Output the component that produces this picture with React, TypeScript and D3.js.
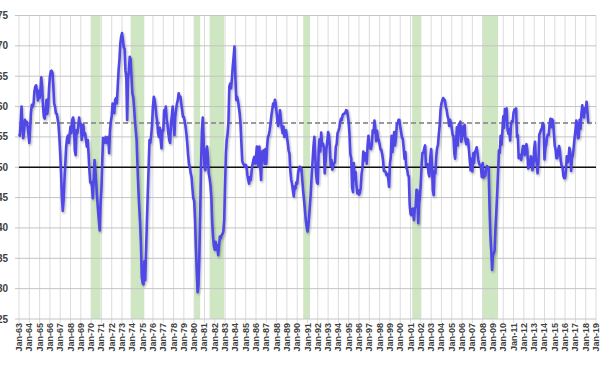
import React from "react";
import * as d3 from "d3";

// ISM manufacturing index, monthly, one row per year starting Jan 1963
const pmi: number[] = [
  55.5, 55.2, 57.5, 60.0, 57.0, 54.8, 56.0, 57.8, 57.0, 57.5, 56.8, 55.5, // 1963
  54.0, 56.5, 59.0, 60.3, 60.0, 60.5, 62.5, 63.3, 63.5, 62.5, 61.0, 62.6, // 1964
  61.4, 62.7, 64.8, 63.3, 60.0, 58.3, 58.0, 59.4, 61.1, 58.8, 60.0, 63.0, // 1965
  65.0, 65.8, 65.9, 65.6, 63.5, 60.5, 60.0, 58.9, 58.8, 58.0, 57.0, 55.0, // 1966
  52.3, 49.0, 45.1, 42.8, 44.6, 47.9, 50.6, 53.4, 54.8, 55.2, 54.0, 55.5, // 1967
  56.7, 55.6, 57.8, 58.2, 57.3, 52.8, 52.0, 56.1, 55.6, 56.7, 58.2, 57.0, // 1968
  57.2, 54.5, 56.1, 57.0, 55.3, 55.6, 54.5, 53.4, 54.5, 52.3, 49.5, 47.5, // 1969
  47.6, 46.8, 44.9, 47.9, 51.2, 49.5, 47.3, 45.0, 43.0, 41.3, 39.6, 44.0, // 1970
  46.5, 51.2, 54.8, 54.0, 54.5, 55.0, 54.0, 54.8, 55.0, 52.3, 56.1, 57.5, // 1971
  58.5, 60.5, 60.0, 58.9, 61.1, 61.4, 60.5, 63.3, 66.0, 67.7, 70.4, 71.5, // 1972
  72.1, 71.0, 69.8, 69.5, 66.0, 64.8, 57.8, 64.5, 66.0, 68.2, 67.8, 65.0, // 1973
  62.2, 61.6, 60.0, 57.8, 56.1, 54.5, 50.5, 46.5, 43.5, 41.0, 37.5, 32.0, // 1974
  30.9, 30.7, 34.5, 31.4, 36.0, 41.0, 45.5, 50.0, 54.5, 54.0, 55.3, 57.0, // 1975
  60.0, 61.6, 61.1, 60.0, 58.5, 57.5, 55.6, 55.0, 56.5, 54.5, 53.1, 56.1, // 1976
  56.0, 59.4, 58.9, 60.0, 58.0, 57.0, 55.6, 54.5, 54.0, 57.2, 58.5, 60.0, // 1977
  57.0, 55.3, 58.3, 59.5, 60.5, 61.1, 62.2, 61.5, 61.6, 60.5, 59.4, 58.3, // 1978
  58.3, 57.5, 56.7, 55.5, 54.0, 52.0, 50.5, 50.1, 49.0, 48.4, 46.5, 44.9, // 1979
  44.5, 41.5, 37.0, 33.0, 29.4, 30.5, 35.0, 42.0, 50.0, 56.0, 58.2, 54.5, // 1980
  50.0, 49.5, 52.5, 53.4, 52.0, 49.0, 48.2, 47.0, 45.1, 41.0, 38.5, 37.0, // 1981
  36.4, 37.7, 36.4, 37.2, 35.5, 37.0, 38.6, 38.3, 38.8, 39.0, 39.4, 41.3, // 1982
  47.0, 52.3, 54.5, 55.5, 57.5, 63.3, 63.8, 63.0, 64.6, 66.6, 68.2, 69.9, // 1983
  64.9, 61.1, 61.6, 61.0, 60.0, 58.9, 57.2, 54.0, 51.0, 50.6, 50.4, 50.1, // 1984
  50.4, 50.1, 48.7, 47.9, 47.3, 48.4, 47.9, 49.5, 50.5, 51.2, 51.7, 50.6, // 1985
  51.7, 53.4, 50.6, 50.1, 53.4, 50.0, 47.9, 52.6, 51.2, 52.8, 50.6, 53.0, // 1986
  50.6, 53.5, 55.0, 55.3, 56.1, 57.2, 58.5, 59.5, 60.5, 60.0, 61.1, 60.5, // 1987
  59.0, 57.5, 56.8, 58.0, 59.4, 58.0, 56.5, 55.6, 56.7, 55.0, 55.6, 56.1, // 1988
  55.0, 54.0, 52.8, 52.3, 49.5, 48.0, 47.3, 46.2, 45.2, 46.8, 46.5, 47.5, // 1989
  47.3, 49.0, 49.8, 50.1, 49.5, 49.8, 47.9, 46.0, 44.6, 43.0, 41.3, 40.2, // 1990
  39.4, 40.5, 42.0, 44.0, 46.0, 49.0, 51.0, 53.4, 55.0, 52.0, 49.0, 47.5, // 1991
  47.3, 52.7, 54.6, 52.6, 55.7, 53.6, 53.9, 53.4, 49.0, 50.9, 53.0, 54.2, // 1992
  55.8, 55.2, 53.5, 50.2, 51.2, 49.6, 50.2, 50.7, 50.8, 53.4, 53.8, 55.6, // 1993
  56.0, 56.5, 57.4, 58.0, 57.8, 58.6, 58.8, 58.8, 59.0, 59.4, 59.3, 58.5, // 1994
  57.4, 55.1, 52.1, 51.5, 46.7, 45.9, 50.7, 47.9, 49.2, 47.1, 45.7, 46.2, // 1995
  45.5, 45.8, 46.5, 48.9, 49.9, 52.6, 51.1, 52.3, 52.2, 50.6, 53.6, 55.2, // 1996
  53.8, 53.1, 53.0, 53.7, 56.1, 55.7, 57.7, 56.4, 54.3, 56.0, 54.8, 54.5, // 1997
  53.8, 52.9, 52.9, 52.2, 51.2, 49.4, 49.4, 49.2, 48.7, 48.9, 48.2, 46.8, // 1998
  50.6, 51.7, 55.2, 52.5, 54.3, 55.8, 53.6, 54.8, 57.0, 57.2, 57.8, 57.8, // 1999
  56.7, 55.8, 54.9, 54.7, 53.2, 51.4, 52.5, 49.9, 49.7, 48.7, 48.5, 43.9, // 2000
  42.3, 42.1, 43.1, 43.2, 41.3, 43.2, 43.5, 46.3, 46.2, 40.8, 44.1, 45.3, // 2001
  47.5, 50.7, 52.4, 52.4, 53.1, 53.6, 50.2, 50.3, 50.5, 49.0, 48.5, 51.6, // 2002
  53.0, 50.5, 46.2, 45.4, 49.4, 49.0, 51.8, 53.2, 53.7, 55.5, 57.0, 59.5, // 2003
  60.5, 61.0, 61.4, 61.2, 61.0, 60.0, 59.5, 58.5, 58.0, 56.8, 57.8, 57.3, // 2004
  56.4, 55.3, 55.2, 52.3, 51.4, 53.8, 56.6, 53.6, 57.0, 57.2, 57.5, 54.2, // 2005
  54.8, 56.7, 55.2, 57.0, 54.4, 53.8, 54.7, 54.5, 52.9, 51.2, 49.5, 51.4, // 2006
  49.3, 52.3, 50.7, 52.6, 52.7, 53.3, 52.4, 51.2, 50.5, 50.4, 50.0, 48.4, // 2007
  50.7, 48.3, 48.6, 48.6, 49.6, 50.2, 50.0, 49.9, 43.5, 38.9, 36.2, 33.1, // 2008
  35.5, 35.8, 36.3, 40.1, 42.8, 45.8, 49.2, 52.8, 52.4, 55.2, 53.7, 55.9, // 2009
  58.4, 56.5, 59.6, 59.4, 59.7, 56.2, 55.5, 56.3, 54.4, 56.9, 57.6, 57.5, // 2010
  59.0, 59.5, 59.3, 59.7, 55.0, 55.3, 51.5, 51.5, 52.0, 51.2, 52.5, 53.5, // 2011
  53.5, 52.0, 53.2, 53.8, 52.9, 49.8, 50.0, 50.7, 51.8, 51.5, 49.5, 50.2, // 2012
  53.1, 54.2, 51.3, 50.7, 49.0, 50.9, 55.4, 55.7, 56.2, 56.4, 57.3, 57.0, // 2013
  51.3, 53.2, 53.7, 54.9, 55.4, 55.3, 57.1, 58.0, 56.6, 57.9, 57.6, 55.5, // 2014
  53.5, 52.9, 51.5, 51.5, 52.8, 53.5, 52.7, 51.1, 50.2, 50.1, 48.6, 48.2, // 2015
  48.2, 49.5, 51.8, 50.8, 51.3, 53.2, 52.6, 49.4, 51.5, 51.9, 53.2, 54.7, // 2016
  56.0, 57.7, 57.2, 54.8, 54.9, 57.8, 56.3, 58.8, 60.2, 58.7, 58.2, 59.7, // 2017
  59.1, 60.8, 59.3, 57.3, // 2018
];

// shaded recession periods [first month, month after last]
const recessions: [string, string][] = [
  ["1970-01", "1970-12"],
  ["1973-11", "1975-03"],
  ["1980-01", "1980-08"],
  ["1981-07", "1982-12"],
  ["1990-08", "1991-04"],
  ["2001-03", "2002-01"],
  ["2008-01", "2009-07"],
];

const longRunAverage = 57.3;
const expansionLine = 50;
const yTicks = [25, 30, 35, 40, 45, 50, 55, 60, 65, 70, 75];

const parseMonth = d3.timeParse("%Y-%m");
const fmt = d3.timeFormat("%b-%y");

export default function App() {
  const width = 600;
  const height = 365;
  const left = 19;
  const right = 596;
  const top = 15.5;
  const bottom = 319;

  const start = new Date(1963, 0, 1);
  const end = new Date(2019, 0, 1);
  const x = d3.scaleTime().domain([start, end]).range([left, right]);
  const y = d3.scaleLinear().domain([25, 75]).range([bottom, top]);

  const points = pmi.map((v, i) => ({ date: d3.timeMonth.offset(start, i), v }));
  const line = d3
    .line<{ date: Date; v: number }>()
    .x((d) => x(d.date))
    .y((d) => y(d.v));

  const years = d3.timeYear.range(start, d3.timeDay.offset(end, 1));

  return (
    <svg
      width={width}
      height={height}
      style={{ position: "absolute", left: 0, top: 0, background: "#fff" }}
      fontFamily="'Liberation Sans', Arial, sans-serif"
    >
      <defs>
        <filter id="shadow" x="-5%" y="-5%" width="110%" height="110%">
          <feDropShadow dx="1" dy="1.5" stdDeviation="0.8" floodColor="#000" floodOpacity="0.3" />
        </filter>
      </defs>

      {/* vertical grid */}
      {years.map((d, i) => (
        <line key={"v" + i} x1={x(d)} x2={x(d)} y1={top} y2={bottom + 4} stroke="#dcdcdc" strokeWidth={1} />
      ))}

      {/* recessions */}
      {recessions.map(([s, e], i) => {
        const x0 = x(parseMonth(s)!);
        const x1 = x(parseMonth(e)!);
        return (
          <rect key={"r" + i} x={x0} y={top} width={x1 - x0} height={bottom - top} fill="#cfe6c2" />
        );
      })}

      {/* horizontal grid */}
      {yTicks.map((t) => (
        <line key={"h" + t} x1={left - 4} x2={right} y1={y(t)} y2={y(t)} stroke="#c4c4c4" strokeWidth={1} />
      ))}

      <line x1={left} x2={right} y1={y(expansionLine)} y2={y(expansionLine)} stroke="#111" strokeWidth={1.3} />
      <line
        x1={left}
        x2={right}
        y1={y(longRunAverage)}
        y2={y(longRunAverage)}
        stroke="#999"
        strokeWidth={2}
        strokeDasharray="5,3"
      />

      <path
        d={line(points) ?? ""}
        fill="none"
        stroke="#5046e6"
        strokeWidth={2.6}
        strokeLinejoin="round"
        filter="url(#shadow)"
      />

      {/* y labels */}
      {yTicks.map((t) => (
        <text
          key={"yl" + t}
          x={8}
          y={y(t) + 3.5}
          textAnchor="end"
          fontSize={10}
          fontWeight="bold"
          fill="#404040"
        >
          {t}
        </text>
      ))}

      {/* x labels */}
      {years.map((d, i) => (
        <text
          key={"xl" + i}
          transform={`translate(${x(d) + 3},${bottom + 4}) rotate(-90)`}
          textAnchor="end"
          fontSize={9}
          fontWeight="bold"
          fill="#404040"
        >
          {fmt(d)}
        </text>
      ))}
    </svg>
  );
}
